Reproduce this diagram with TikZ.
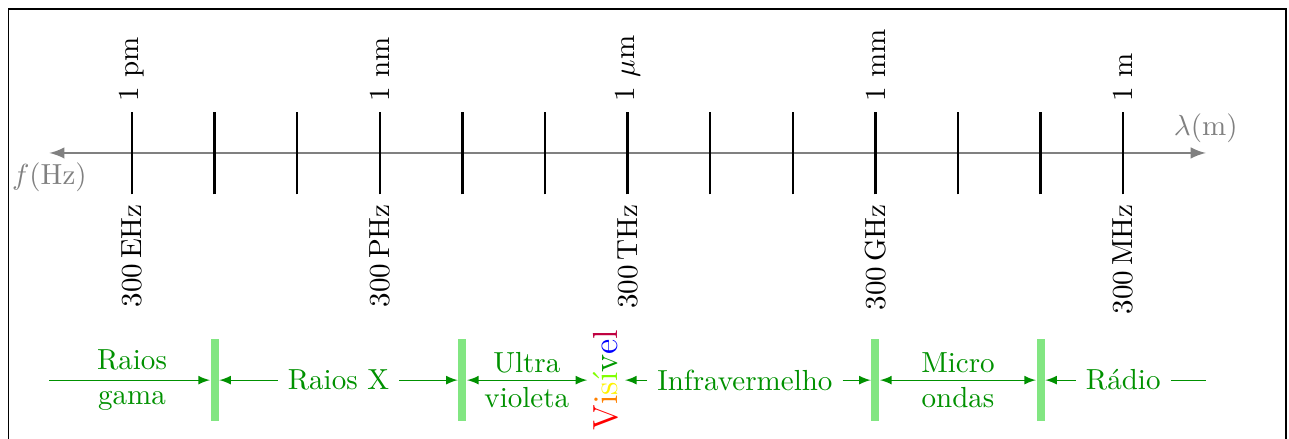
\documentclass[tikz,border=0pt]{standalone}
\usepackage{amssymb}
\usepackage{tikz}
\usepackage{tkz-euclide}
\definecolor{espverde}{RGB}{0,145,0}
\definecolor{espfaixa}{RGB}{130,230,130}
\tikzset{
    eixo/.style={gray, thick, latex-latex},
    marca/.style={thick},
    faixa/.style={rectangle, fill=espfaixa, inner sep=0pt, minimum width=2.8pt, minimum height=1cm},
    banda/.style={espverde, align=center},
    seta/.style={espverde, -latex},
}
\newcommand{\visivel}{\textcolor{red}{V}\textcolor{orange}{i}\textcolor{yellow}{s}\textcolor{green!50!yellow}{í}\textcolor{green!60!black}{v}\textcolor{blue}{e}\textcolor{purple}{l}}

\begin{document}
\begin{tikzpicture}
                \useasboundingbox (-1.598,-3.462) rectangle (14.007,1.852);
                \draw[thin] (-1.5,-3.462) |- (13.97,1.743) -- (13.97,-3.462);

                \tkzDefPoints{-1/0/L, 13/0/R}
                \draw[eixo] (L) -- (R);
                \node[gray, below] (freq) at (L) {$f$(Hz)};
                \node[gray, above] (lambda) at (R) {$\lambda$(m)};

                \foreach \i in {0,...,12}
                    \draw[marca] (\i,-0.5) -- (\i,0.5);

                \foreach \i/\c/\f in {0/1 pm/300\,EHz, 3/1 nm/300\,PHz, 6/1 $\mu$m/300\,THz, 9/1 mm/300\,GHz, 12/1 m/300\,MHz}{
                    \node[rotate=90, anchor=west] (c\i) at (\i,0.5) {\c};
                    \node[rotate=90, anchor=east] (f\i) at (\i,-0.5) {\f};
                }

                \tkzDefPoints{-1/-2.75/P, 13/-2.75/Q}

                \node[faixa] (b1) at (1,-2.75) {};
                \node[faixa] (b4) at (4,-2.75) {};
                \node[faixa] (b9) at (9,-2.75) {};
                \node[faixa] (b11) at (11,-2.75) {};

                \node[banda] (gama) at (0,-2.75) {Raios\\gama};
                \node[banda] (raiox) at (2.5,-2.75) {Raios X};
                \node[banda] (uv) at (4.78,-2.75) {Ultra\\violeta};
                \node[rotate=90, inner sep=2pt, font=\large] (vis) at (5.74,-2.75) {\visivel};
                \node[banda] (ir) at (7.42,-2.75) {Infravermelho};
                \node[banda] (micro) at (10,-2.75) {Micro\\ondas};
                \node[banda] (radio) at (12,-2.75) {Rádio};

                \draw[seta] (P) -- (b1);
                \draw[seta] (raiox) -- (b1);
                \draw[seta] (raiox) -- (b4);
                \draw[seta, latex-latex] (b4) -- (vis);
                \draw[seta] (ir) -- (vis);
                \draw[seta] (ir) -- (b9);
                \draw[seta, latex-latex] (b9) -- (b11);
                \draw[seta] (radio) -- (b11);
                \draw[espverde] (radio) -- (Q);
            \end{tikzpicture}
\end{document}
